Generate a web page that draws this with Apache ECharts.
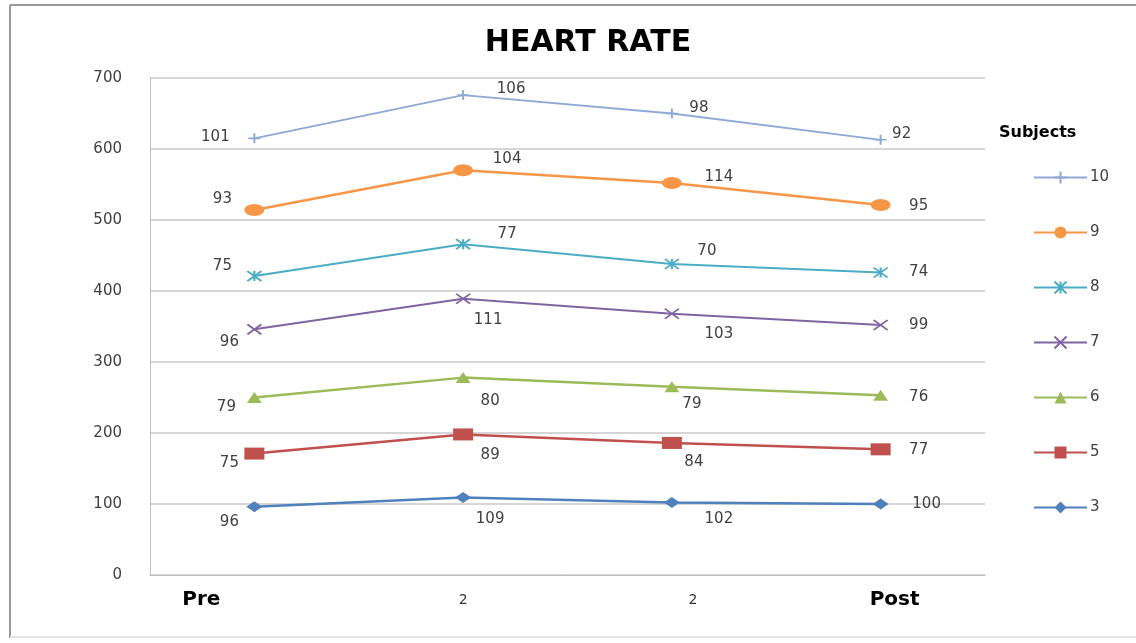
<!DOCTYPE html>
<html>
<head>
<meta charset="utf-8">
<title>Heart Rate</title>
<script src="https://cdn.jsdelivr.net/npm/echarts@6/dist/echarts.min.js"></script>
<style>
  html, body { margin: 0; padding: 0; background: #ffffff; }
  #chart { width: 1136px; height: 643px; }
</style>
</head>
<body>
<div id="chart"></div>
<script>
// Time points (x axis) and y-axis range
const categories = ['Pre', '2', '2', 'Post'];
const yTicks = [0, 100, 200, 300, 400, 500, 600, 700];

// Heart rate per subject at each time point (lines are stacked)
const subjectNames = ['3', '5', '6', '7', '8', '9', '10'];
const hr3  = [96, 109, 102, 100];
const hr5  = [75, 89, 84, 77];
const hr6  = [79, 80, 79, 76];
const hr7  = [96, 111, 103, 99];
const hr8  = [75, 77, 70, 74];
const hr9  = [93, 104, 114, 95];
const hr10 = [101, 106, 98, 92];

const seriesValues = [hr3, hr5, hr6, hr7, hr8, hr9, hr10];

// Look of each subject's line
const styles = {
  '3':  { color: '#4F81BD', symbol: 'diamond', size: [16, 11], width: 2.5 },
  '5':  { color: '#C0504D', symbol: 'rect', size: [20, 12], width: 2.5 },
  '6':  { color: '#9BBB59', symbol: 'triangle', size: [15, 11], width: 2.5 },
  '7':  { color: '#8064A2', symbol: 'path://M0,0L10,10M10,0L0,10', size: [14, 10], width: 2, stroke: true },
  '8':  { color: '#4BACC6', symbol: 'path://M0,0L10,10M10,0L0,10M5,0L5,10', size: [14, 10], width: 2, stroke: true },
  '9':  { color: '#F79646', symbol: 'circle', size: [20, 12], width: 2.5 },
  '10': { color: '#8EA9D6', symbol: 'path://M5,0L5,10M0,5L10,5', size: [12, 10], width: 1.8, stroke: true }
};

// Where each value label sits relative to its point [dx, dy]
const labelOffsets = {
  '3':  [[-25, 15], [27, 21], [47, 17], [46, 0]],
  '5':  [[-25, 10], [27, 21], [22, 19], [38, 1]],
  '6':  [[-28, 10], [27, 23], [20, 17], [38, 2]],
  '7':  [[-25, 13], [25, 21], [47, 20], [38, 0]],
  '8':  [[-32, -10], [44, -10], [35, -13], [38, 0]],
  '9':  [[-32, -11], [44, -11], [47, -6], [38, 1]],
  '10': [[-39, -1], [48, -6], [27, -5], [21, -6]]
};

const labelFont = 'DejaVu Sans';

const series = subjectNames.map(function (name, si) {
  const st = styles[name];
  return {
    name: name,
    type: 'line',
    stack: 'total',
    data: seriesValues[si].map(function (v, i) {
      return {
        value: v,
        label: { position: 'inside', offset: labelOffsets[name][i] }
      };
    }),
    symbol: st.symbol,
    symbolSize: st.size,
    lineStyle: { color: st.color, width: st.width },
    itemStyle: st.stroke
      ? { color: st.color, borderColor: st.color, borderWidth: 1.8 }
      : { color: st.color, borderWidth: 0 },
    label: {
      show: true,
      formatter: '{c}',
      fontFamily: labelFont,
      fontSize: 15,
      color: '#404040'
    },
    emphasis: { disabled: true },
    animation: false,
    z: 10 - si
  };
});

const chart = echarts.init(document.getElementById('chart'), null, { renderer: 'canvas' });

chart.setOption({
  backgroundColor: '#ffffff',
  animation: false,
  title: [
    {
      text: 'HEART RATE',
      left: 583,
      top: 23,
      textAlign: 'center',
      textStyle: { fontFamily: labelFont, fontSize: 30, fontWeight: 'bold', color: '#000000' }
    },
    {
      text: 'Subjects',
      left: 994,
      top: 120,
      textStyle: { fontFamily: labelFont, fontSize: 16, fontWeight: 'bold', color: '#000000' }
    }
  ],
  legend: {
    orient: 'vertical',
    left: 1033,
    top: 170,
    padding: 0,
    itemWidth: 53,
    itemHeight: 15,
    itemGap: 40,
    data: ['10', '9', '8', '7', '6', '5', '3'],
    textStyle: { fontFamily: labelFont, fontSize: 15, color: '#404040', padding: [0, 0, 0, -2] }
  },
  grid: { left: 150, right: 151, top: 78, bottom: 68, containLabel: false },
  xAxis: {
    type: 'category',
    data: categories,
    boundaryGap: true,
    axisLine: { show: true, lineStyle: { color: '#BFBFBF', width: 1 } },
    axisTick: { show: false },
    axisLabel: {
      margin: 13,
      interval: 0,
      formatter: function (value, index) {
        const keys = ['pre', 'mid1', 'mid2', 'post'];
        return '{' + keys[index] + '|' + categories[index] + '}';
      },
      rich: {
        pre:  { fontFamily: labelFont, fontSize: 20, fontWeight: 'bold', color: '#000000', lineHeight: 24, padding: [0, 106, 0, 0] },
        mid1: { fontFamily: labelFont, fontSize: 14, color: '#333333', lineHeight: 24 },
        mid2: { fontFamily: labelFont, fontSize: 14, color: '#333333', lineHeight: 24, padding: [0, 0, 0, 42] },
        post: { fontFamily: labelFont, fontSize: 20, fontWeight: 'bold', color: '#000000', lineHeight: 24, padding: [0, 0, 0, 28] }
      }
    }
  },
  yAxis: {
    type: 'value',
    min: yTicks[0],
    max: yTicks[yTicks.length - 1],
    interval: yTicks[1] - yTicks[0],
    axisLine: { show: true, lineStyle: { color: '#BFBFBF', width: 1 } },
    axisTick: { show: false },
    axisLabel: { margin: 28, fontFamily: labelFont, fontSize: 15, color: '#404040' },
    splitLine: { show: true, lineStyle: { color: '#C8C8C8', width: 1.5 } }
  },
  graphic: [
    // chart frame: top and left edges darker, bottom faint
    { type: 'line', shape: { x1: 10, y1: 5, x2: 1136, y2: 5 }, style: { stroke: '#9A9A9A', lineWidth: 2 }, silent: true },
    { type: 'line', shape: { x1: 10, y1: 5, x2: 10, y2: 638 }, style: { stroke: '#9A9A9A', lineWidth: 2 }, silent: true },
    { type: 'line', shape: { x1: 10, y1: 637, x2: 1136, y2: 637 }, style: { stroke: '#E4E4E4', lineWidth: 2 }, silent: true }
  ],
  series: series
});
</script>
</body>
</html>
